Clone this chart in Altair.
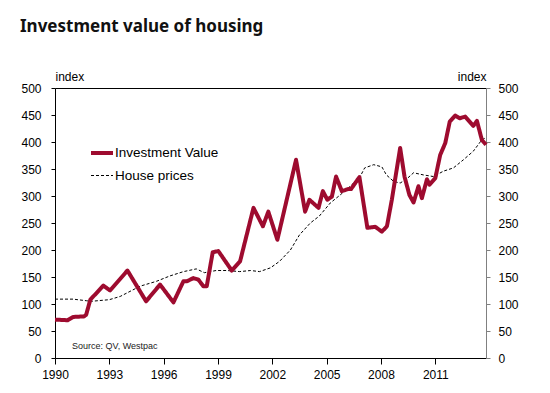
import altair as alt
import pandas as pd

title_text = "Investment value of housing"
source_text = "Source: QV, Westpac"
series_names = ["Investment Value", "House prices"]
series_colors = ["#9E0B2F", "#000000"]

inv_years = [1990.0, 1990.7, 1991.0, 1991.6, 1991.72, 1991.95, 1992.2, 1992.67, 1993.04,
             1994.0, 1995.03, 1995.8, 1996.54, 1997.09, 1997.28, 1997.64, 1997.92, 1998.19,
             1998.38, 1998.71, 1999.02, 1999.76, 2000.22, 2000.96, 2001.48, 2001.78, 2002.28,
             2003.31, 2003.81, 2004.05, 2004.55, 2004.79, 2005.04, 2005.29, 2005.52, 2005.84,
             2006.2, 2006.35, 2006.81, 2007.25, 2007.68, 2008.05, 2008.33, 2008.6, 2009.06,
             2009.3, 2009.57, 2009.8, 2010.07, 2010.26, 2010.54, 2010.68, 2011.0, 2011.27,
             2011.55, 2011.8, 2012.1, 2012.35, 2012.65, 2013.1, 2013.3, 2013.57, 2013.8]
inv_values = [71, 70, 76, 77, 80, 108, 117, 134, 125,
              162, 105, 136, 103, 142, 142, 148, 145, 133,
              133, 196, 198, 162, 179, 278, 244, 271, 219,
              367, 271, 293, 278, 309, 293, 299, 336, 309,
              313, 313, 335, 241, 243, 234, 244, 293, 389,
              336, 302, 288, 318, 296, 331, 321, 333, 376,
              398, 438, 449, 444, 447, 430, 439, 404, 395]

hp_years = [1990.0, 1991.0, 1991.75, 1992.0, 1993.0, 1993.6, 1994.7, 1995.6, 1996.35,
            1997.1, 1997.8, 1998.25, 1998.9, 1999.5, 2000.2, 2000.8, 2001.3, 2001.9,
            2002.4, 2003.0, 2003.5, 2004.1, 2004.6, 2005.2, 2005.75, 2006.3, 2006.85,
            2007.1, 2007.6, 2008.05, 2008.3, 2008.7, 2009.06, 2009.4, 2009.8, 2010.35,
            2010.9, 2011.45, 2012.0, 2012.55, 2013.1, 2013.57, 2013.8]
hp_values = [109, 109, 106, 105, 108, 114, 133, 142, 152,
             160, 165, 158, 162, 162, 160, 162, 160, 167,
             179, 200, 228, 250, 263, 287, 302, 318, 336,
             352, 358, 354, 339, 327, 324, 331, 343, 339,
             336, 346, 352, 367, 383, 404, 408]

y_ticks = [0, 50, 100, 150, 200, 250, 300, 350, 400, 450, 500]
x_ticks = [1990, 1993, 1996, 1999, 2002, 2005, 2008, 2011]

inv_df = pd.DataFrame({"year": inv_years, "value": inv_values, "series": series_names[0]})
hp_df = pd.DataFrame({"year": hp_years, "value": hp_values, "series": series_names[1]})
note_df = pd.DataFrame({"note": [source_text]})

FONT = "Liberation Sans"

leg = alt.Legend(orient="none", legendX=34, legendY=52, title=None, symbolType="stroke",
                 symbolSize=484, labelFontSize=13.5, labelFont=FONT, labelColor="black",
                 labelOffset=0, rowPadding=3, symbolStrokeColor="black")

color = alt.Color("series:N", scale=alt.Scale(domain=series_names, range=series_colors), legend=leg)
dash = alt.StrokeDash("series:N", scale=alt.Scale(domain=series_names, range=[[1, 0], [3, 2]]), legend=leg)
swidth = alt.StrokeWidth("series:N", scale=alt.Scale(domain=series_names, range=[4, 1]), legend=leg)

xscale = alt.Scale(domain=[1990, 2013.8], nice=False, zero=False)
yscale = alt.Scale(domain=[0, 500], nice=False)

x_bottom = alt.X("year:Q", scale=xscale, axis=alt.Axis(
    values=x_ticks, format="d", title=None, labelFontSize=12, labelFont=FONT, labelColor="black",
    tickSize=6, labelPadding=5, domainColor="black", tickColor="black", grid=False, labelFlush=False))
x_top = alt.X("year:Q", scale=xscale, axis=alt.Axis(
    orient="top", labels=False, ticks=False, title=None, domainColor="black", grid=False))

y_left = alt.Y("value:Q", scale=yscale, axis=alt.Axis(
    values=y_ticks, title="index", titleAngle=0, titleX=0, titleY=-5, titleAlign="left",
    titleBaseline="bottom", titleFontSize=12, titleFontWeight="normal", titleFont=FONT,
    titleColor="black", labelFontSize=12, labelFont=FONT, labelColor="black", labelPadding=10,
    tickSize=4, domainColor="black", tickColor="black", grid=False))
y_right = alt.Y("value:Q", scale=yscale, axis=alt.Axis(
    orient="right", values=y_ticks, title="index", titleAngle=0, titleX=0, titleY=-5,
    titleAlign="right", titleBaseline="bottom", titleFontSize=12, titleFontWeight="normal",
    titleFont=FONT, titleColor="black", labelFontSize=12, labelFont=FONT, labelColor="black",
    labelPadding=8, tickSize=4, domainColor="#808080", tickColor="#808080", grid=False))

hp_layer = alt.Chart(hp_df).mark_line(strokeCap="butt").encode(
    x=x_top, y=y_right, color=color, strokeDash=dash, strokeWidth=swidth)
inv_layer = alt.Chart(inv_df).mark_line(strokeJoin="round").encode(
    x=x_bottom, y=y_left, color=color, strokeDash=dash, strokeWidth=swidth)
note_layer = alt.Chart(note_df).mark_text(align="left", baseline="middle", fontSize=9,
                                          font=FONT, color="#222222").encode(
    x=alt.value(17), y=alt.value(258), text="note:N")

chart = alt.layer(hp_layer, inv_layer, note_layer).resolve_axis(
    x="independent", y="independent"
).properties(
    width=431, height=270,
    title=alt.Title(title_text, anchor="start", frame="group", dx=-35, fontSize=17,
                    font="Noto Sans", fontWeight="bold", color="#111111", offset=17,
                    baseline="bottom"),
    autosize=alt.AutoSizeParams(type="none"),
    padding={"left": 47, "top": 80, "right": 55, "bottom": 27},
).configure_view(stroke=None).configure(background="white")

chart.save("out.html", embed_options={"renderer": "svg", "actions": False})
